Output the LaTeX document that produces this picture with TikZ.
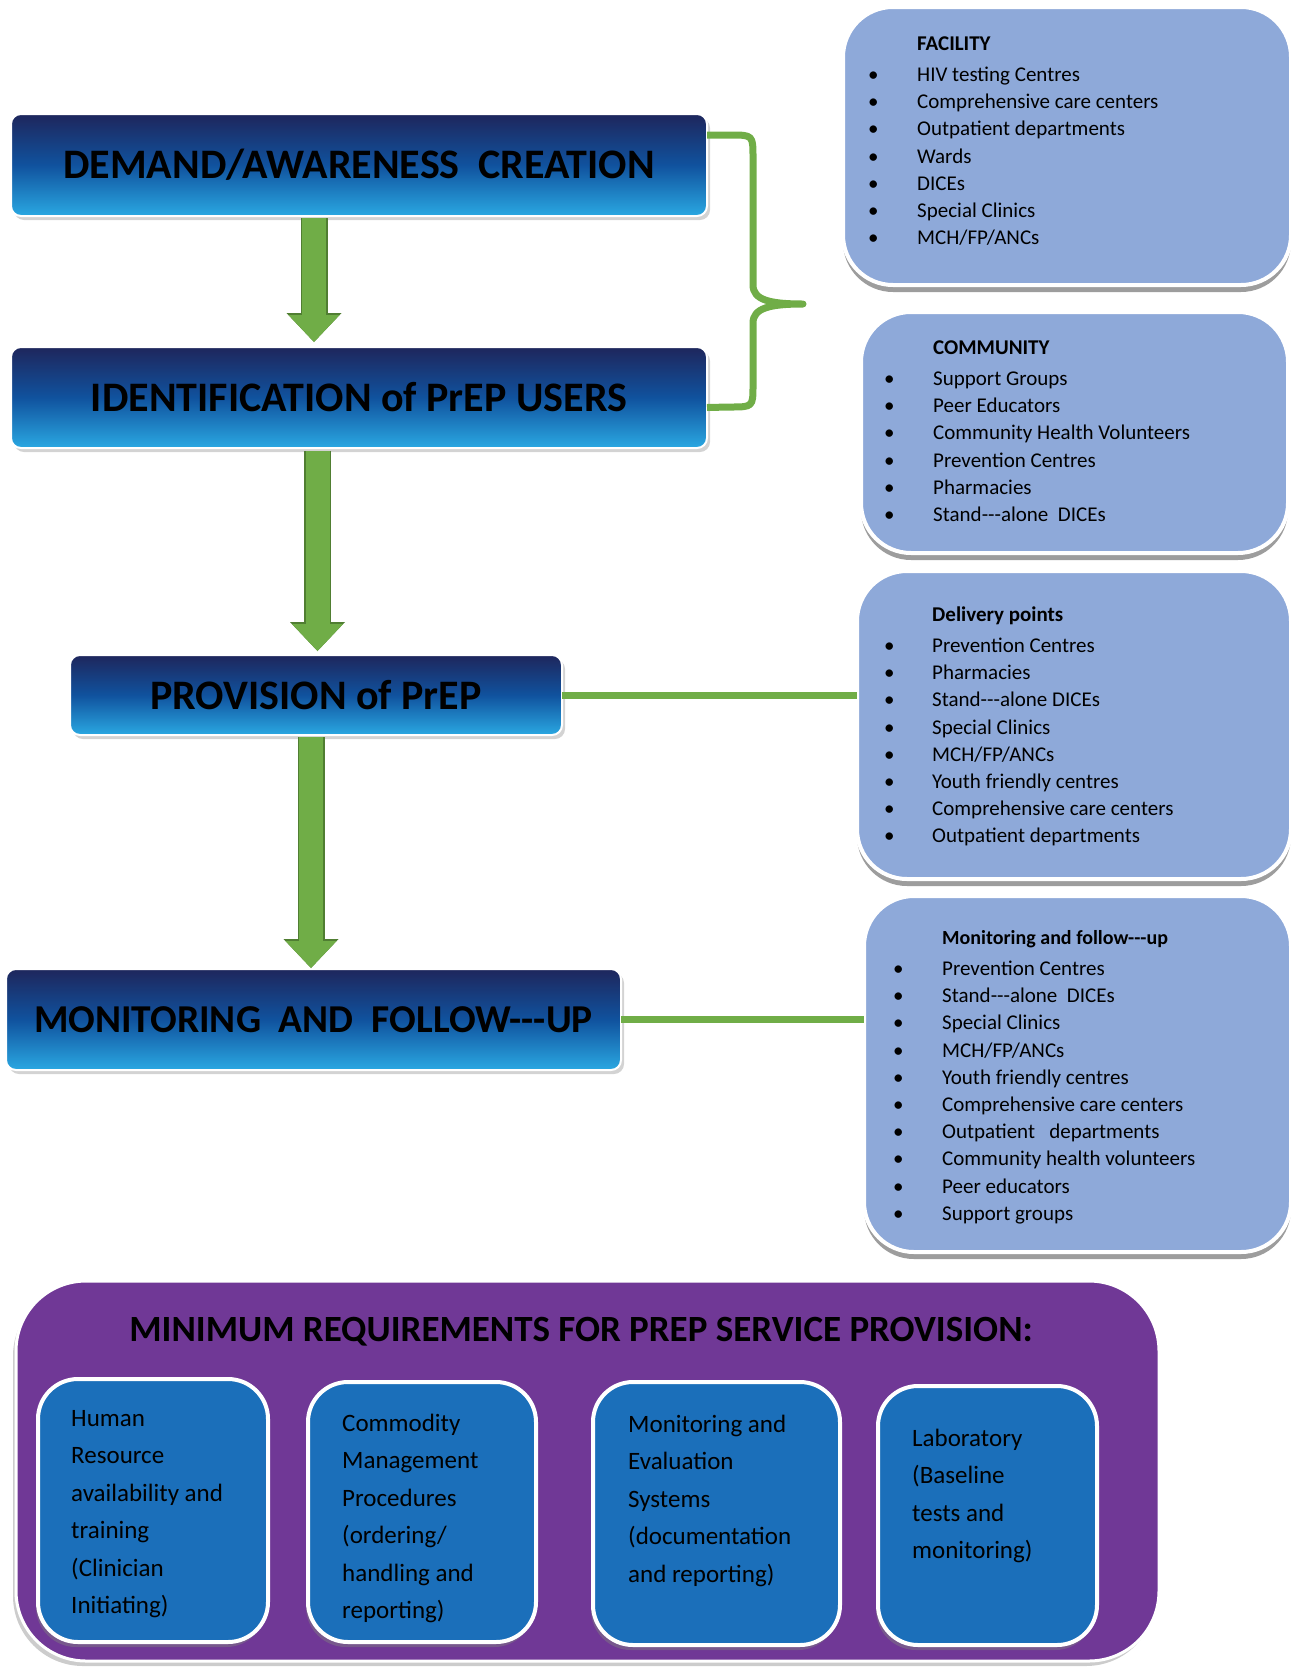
\documentclass[tikz,border=0pt]{standalone}
\usepackage{fontspec}
\setmainfont{Carlito}
\usetikzlibrary{shadows,arrows.meta}

\definecolor{navytop}{RGB}{30,38,92}
\definecolor{navymid}{RGB}{16,82,158}
\definecolor{skybot}{RGB}{42,168,226}
\definecolor{listblue}{RGB}{142,169,217}
\definecolor{reqpurple}{RGB}{112,56,150}
\definecolor{reqblue}{RGB}{27,111,186}
\definecolor{flowgreen}{RGB}{112,173,71}
\definecolor{flowdark}{RGB}{80,126,50}

\tikzset{
	stagebox/.style={rectangle, rounded corners=10pt, draw=white, line width=2pt,
		top color=navytop, bottom color=skybot, middle color=navymid,
		inner sep=0pt, outer sep=0pt,
		font=\fontsize{42}{50}\selectfont\bfseries,
		drop shadow={shadow xshift=3pt, shadow yshift=-4pt, opacity=0.35}},
	listbox/.style={rectangle, rounded corners=50pt, fill=listblue, draw=white, line width=4pt,
		inner sep=0pt, outer sep=0pt,
		drop shadow={shadow xshift=0pt, shadow yshift=-7pt, opacity=0.55, fill=black!70}},
	listtext/.style={anchor=north west, inner sep=0pt, font=\fontsize{21}{27.2}\selectfont},
	reqframe/.style={rectangle, rounded corners=70pt, fill=reqpurple, draw=white, line width=3pt,
		inner sep=0pt, drop shadow={shadow xshift=-3pt, shadow yshift=-5pt, opacity=0.4}},
	reqbox/.style={rectangle, rounded corners=40pt, fill=reqblue, draw=white, line width=4pt,
		inner sep=0pt, drop shadow={shadow xshift=-2pt, shadow yshift=-5pt, opacity=0.45}},
	reqtext/.style={anchor=north west, inner sep=0pt, font=\fontsize{25}{37.5}\selectfont},
	flowarrow/.style={draw=flowgreen, line width=24pt,
		-{Triangle[length=27pt,width=51pt,line width=0pt]},
		preaction={draw=flowdark, line width=27pt, -{Triangle[length=29pt,width=55pt,line width=0pt]}}},
	linkline/.style={draw=flowgreen, line width=7pt, line join=round}
}

\begin{document}
\begin{tikzpicture}[x=1pt,y=-1pt]
	\useasboundingbox (0,0) rectangle (1299,1668);

	\node[stagebox, minimum width=696pt, minimum height=102pt] (demand) at (359,165) {DEMAND/AWARENESS\ \ CREATION};
	\node[stagebox, minimum width=696pt, minimum height=101pt] (ident) at (359,397.5) {IDENTIFICATION\ of\ PrEP\ USERS};
	\node[stagebox, minimum width=492pt, minimum height=80pt] (provision) at (316,695) {PROVISION\ of\ PrEP};
	\node[stagebox, minimum width=615pt, minimum height=101pt, font=\fontsize{39.5}{48}\selectfont\bfseries] (monitor) at (313.5,1019.5) {MONITORING\ \ AND\ \ FOLLOW-{}-{}-UP};

	\draw[flowarrow] ([xshift=-45pt,yshift=-2pt]demand.south) -- ([xshift=-45pt,yshift=5pt]ident.north);
	\draw[flowarrow] ([xshift=-41.5pt,yshift=-3pt]ident.south) -- ([xshift=1.5pt,yshift=4pt]provision.north);
	\draw[flowarrow] ([xshift=-5pt,yshift=-2pt]provision.south) -- ([xshift=-2.5pt,yshift=1pt]monitor.north);

	\draw[linkline] ([yshift=-21pt]demand.north east) -- (730,135) .. controls (753,135) .. (753,158) -- (753,285)
		.. controls (753,300) and (770,304) .. (803,304) .. controls (770,304) and (753,308) .. (753,323)
		-- (753,385) .. controls (753,407) .. (730,407) -- ([yshift=-10pt]ident.east);

	\node[listbox, minimum width=448pt, minimum height=278pt] (facility) at (1067,146) {};
	\node[listbox, minimum width=427pt, minimum height=241pt] (community) at (1074.5,432.5) {};
	\node[listbox, minimum width=434pt, minimum height=308pt] (delivery) at (1074,725) {};
	\node[listbox, minimum width=427pt, minimum height=356pt] (followup) at (1077.5,1074) {};

	\draw[linkline] (provision.east) -- (provision.east -| delivery.west);
	\draw[linkline] (monitor.east) -- (monitor.east -| followup.west);

	\node[listtext] (faclist) at (868,31) {\begin{tabular}{@{}p{49pt}@{}l@{}}
		& \textbf{FACILITY}\\[4pt]
		\textbullet & HIV testing Centres\\
		\textbullet & Comprehensive care centers\\
		\textbullet & Outpatient departments\\
		\textbullet & Wards\\
		\textbullet & DICEs\\
		\textbullet & Special Clinics\\
		\textbullet & MCH/FP/ANCs
	\end{tabular}};
	\node[listtext] (comlist) at (884,335) {\begin{tabular}{@{}p{49pt}@{}l@{}}
		& \textbf{COMMUNITY}\\[4pt]
		\textbullet & Support Groups\\
		\textbullet & Peer Educators\\
		\textbullet & Community Health Volunteers\\
		\textbullet & Prevention Centres\\
		\textbullet & Pharmacies\\
		\textbullet & Stand-{}-{}-alone\ \ DICEs
	\end{tabular}};
	\node[listtext] (dellist) at (884,602) {\begin{tabular}{@{}p{48pt}@{}l@{}}
		& \textbf{Delivery points}\\[4pt]
		\textbullet & Prevention Centres\\
		\textbullet & Pharmacies\\
		\textbullet & Stand-{}-{}-alone\ DICEs\\
		\textbullet & Special Clinics\\
		\textbullet & MCH/FP/ANCs\\
		\textbullet & Youth friendly centres\\
		\textbullet & Comprehensive care centers\\
		\textbullet & Outpatient departments
	\end{tabular}};
	\node[listtext] (fuplist) at (893,925) {\begin{tabular}{@{}p{49pt}@{}l@{}}
		& \textbf{\fontsize{20}{27.2}\selectfont Monitoring and follow-{}-{}-up}\\[4pt]
		\textbullet & Prevention Centres\\
		\textbullet & Stand-{}-{}-alone\ \ DICEs\\
		\textbullet & Special Clinics\\
		\textbullet & MCH/FP/ANCs\\
		\textbullet & Youth friendly centres\\
		\textbullet & Comprehensive care centers\\
		\textbullet & Outpatient\ \ \ departments\\
		\textbullet & Community health volunteers\\
		\textbullet & Peer educators\\
		\textbullet & Support groups
	\end{tabular}};

	\node[reqframe, minimum width=1143pt, minimum height=380pt] (reqall) at (587.5,1471) {};
	\node[font=\fontsize{37}{44}\selectfont\bfseries, inner sep=0pt] (reqtitle) at (581,1332) {MINIMUM REQUIREMENTS FOR PREP SERVICE PROVISION:};

	\node[reqbox, minimum width=230pt, minimum height=263pt] (hrbox) at (153,1510.5) {};
	\node[reqbox, minimum width=228pt, minimum height=260pt] (cmbox) at (422,1512) {};
	\node[reqbox, minimum width=247pt, minimum height=263pt] (mebox) at (716.5,1513.5) {};
	\node[reqbox, minimum width=219pt, minimum height=259pt] (labbox) at (987.5,1515.5) {};

	\node[reqtext] (hrtext) at (71,1400) {\begin{tabular}{@{}l@{}}Human\\Resource\\availability and\\training\\(Clinician\\Initiating)\end{tabular}};
	\node[reqtext] (cmtext) at (342,1405) {\begin{tabular}{@{}l@{}}Commodity\\Management\\Procedures\\(ordering/\\handling and\\reporting)\end{tabular}};
	\node[reqtext] (metext) at (628,1406) {\begin{tabular}{@{}l@{}}Monitoring and\\Evaluation\\Systems\\(documentation\\and reporting)\end{tabular}};
	\node[reqtext] (labtext) at (912,1420) {\begin{tabular}{@{}l@{}}Laboratory\\(Baseline\\tests and\\monitoring)\end{tabular}};

\end{tikzpicture}
\end{document}
